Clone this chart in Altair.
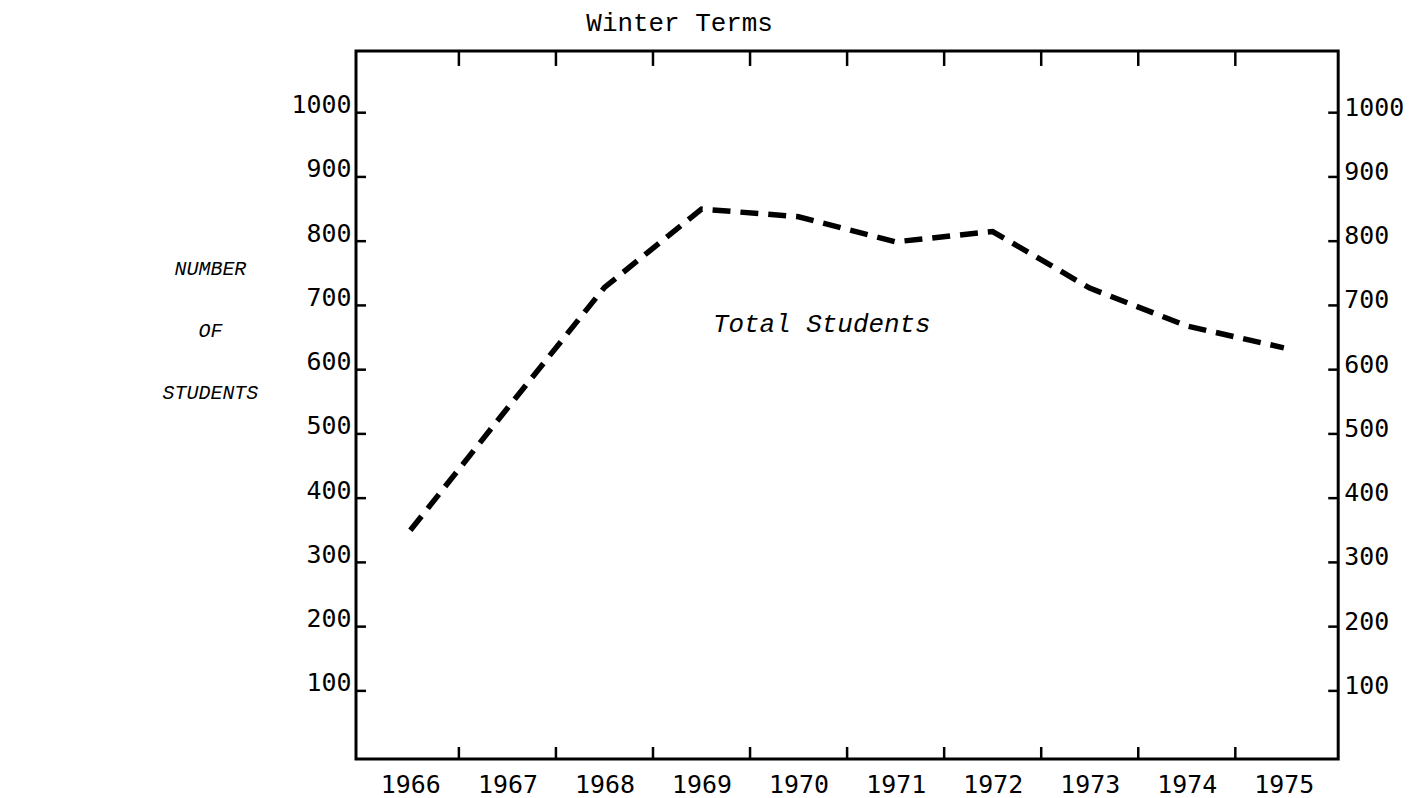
import altair as alt
import pandas as pd

# ---- data ----
years = [1966, 1967, 1968, 1969, 1970, 1971, 1972, 1973, 1974, 1975]
total_students = [350, 540, 728, 850, 838, 799, 815, 727, 668, 634]
band_edges = [1966.5, 1967.5, 1968.5, 1969.5, 1970.5, 1971.5, 1972.5, 1973.5, 1974.5]
y_ticks = [100, 200, 300, 400, 500, 600, 700, 800, 900, 1000]
chart_title = "Winter Terms"
left_title = ["NUMBER", "OF", "STUDENTS"]
series_label = "Total Students"

W, H = 985, 710
MONO_SANS = "DejaVu Sans Mono"
MONO_SERIF = "Liberation Mono"

df = pd.DataFrame({"year": years, "students": total_students})
edges = pd.DataFrame({"edge": band_edges})
yt = pd.DataFrame({"v": y_ticks})
one = pd.DataFrame({"k": [0]})

xscale = alt.Scale(domain=[1965.44, 1975.56], nice=False, zero=False)
yscale = alt.Scale(domain=[-6, 1096], nice=False, zero=False)

xaxis = alt.Axis(values=years, format="d", ticks=False, domain=False, grid=False,
                 labelFont=MONO_SANS, labelFontSize=25, labelPadding=14,
                 labelColor="black", labelOverlap=False, labelFlush=False,
                 labelBound=False, title=None)
yaxis = alt.Axis(values=y_ticks, format="d", ticks=False, domain=False, grid=False,
                 labelFont=MONO_SANS, labelFontSize=25, labelPadding=5,
                 labelColor="black", labelBaseline="alphabetic",
                 labelOverlap=False, labelFlush=False, labelBound=False, title=None)

line = alt.Chart(df).mark_line(
    color="black", strokeWidth=5.5, strokeDash=[18, 10], strokeCap="butt"
).encode(
    x=alt.X("year:Q", scale=xscale, axis=xaxis),
    y=alt.Y("students:Q", scale=yscale, axis=yaxis),
)

x_ticks_bottom = alt.Chart(edges).mark_rule(color="black", strokeWidth=2.5).encode(
    x=alt.X("edge:Q", scale=xscale, axis=xaxis),
    y=alt.value(H - 12), y2=alt.value(H),
)
x_ticks_top = alt.Chart(edges).mark_rule(color="black", strokeWidth=2.5).encode(
    x=alt.X("edge:Q", scale=xscale, axis=xaxis),
    y=alt.value(0), y2=alt.value(15),
)
y_ticks_left = alt.Chart(yt).mark_rule(color="black", strokeWidth=2.5).encode(
    y=alt.Y("v:Q", scale=yscale, axis=yaxis),
    x=alt.value(0), x2=alt.value(10),
)
y_ticks_right = alt.Chart(yt).mark_rule(color="black", strokeWidth=2.5).encode(
    y=alt.Y("v:Q", scale=yscale, axis=yaxis),
    x=alt.value(W - 10), x2=alt.value(W),
)
y_labels_right = alt.Chart(yt).mark_text(
    align="left", baseline="alphabetic", dx=6, dy=3,
    font=MONO_SANS, fontSize=25, color="black"
).encode(
    y=alt.Y("v:Q", scale=yscale, axis=yaxis),
    x=alt.value(W),
    text=alt.Text("v:Q", format="d"),
)

left_label = alt.Chart(one).mark_text(
    text=left_title, font=MONO_SERIF, fontStyle="italic", fontSize=20,
    lineHeight=62, align="center", baseline="middle", color="black"
).encode(x=alt.value(-146), y=alt.value(219))

series_text = alt.Chart(one).mark_text(
    text=series_label, font=MONO_SERIF, fontStyle="italic", fontSize=26,
    align="left", baseline="alphabetic", color="black"
).encode(x=alt.value(358), y=alt.value(282))

title_text = alt.Chart(one).mark_text(
    text=chart_title, font=MONO_SERIF, fontSize=26,
    align="left", baseline="alphabetic", color="black"
).encode(x=alt.value(231), y=alt.value(-20))

chart = alt.layer(
    line, x_ticks_bottom, x_ticks_top, y_ticks_left, y_ticks_right,
    y_labels_right, left_label, series_text, title_text
).properties(
    width=W, height=H,
    autosize=alt.AutoSizeParams(type="none"),
    padding={"left": 349, "top": 42, "right": 70, "bottom": 38},
    background="white",
).configure_view(stroke="black", strokeWidth=3)

chart.save("out.html", embed_options={"renderer": "svg", "actions": False})
